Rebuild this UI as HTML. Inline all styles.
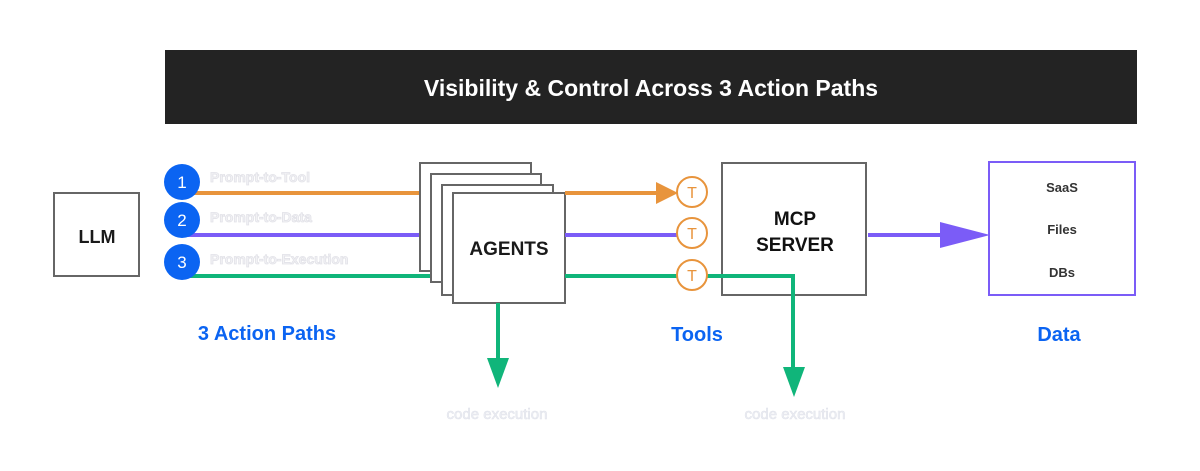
<!DOCTYPE html>
<html><head><meta charset="utf-8"><style>
html,body{margin:0;padding:0;background:#fff;}
svg{display:block;}
text{font-family:"Liberation Sans",sans-serif;}
</style></head><body>
<svg width="1200" height="471" viewBox="0 0 1200 471" xmlns="http://www.w3.org/2000/svg">
<rect x="0" y="0" width="1200" height="471" fill="#fff"/>
<rect x="165" y="50" width="972" height="74" fill="#232323"/>
<text x="651" y="96" fill="#fff" font-size="23" font-weight="bold" text-anchor="middle">Visibility &amp; Control Across 3 Action Paths</text>

<rect x="54" y="193" width="85" height="83" fill="#fff" stroke="#666" stroke-width="2"/>
<text x="97" y="243" font-size="18" font-weight="bold" text-anchor="middle" fill="#1a1a1a">LLM</text>

<line x1="182" y1="193" x2="430" y2="193" stroke="#e8943c" stroke-width="4"/>
<line x1="182" y1="235" x2="430" y2="235" stroke="#7b5cf7" stroke-width="4"/>
<line x1="182" y1="276" x2="440" y2="276" stroke="#10b57a" stroke-width="4"/>

<rect x="420" y="163" width="111" height="108" fill="#fff" stroke="#666" stroke-width="2"/>
<rect x="431" y="174" width="110" height="108" fill="#fff" stroke="#666" stroke-width="2"/>
<rect x="442" y="185" width="111" height="110" fill="#fff" stroke="#666" stroke-width="2"/>
<rect x="453" y="193" width="112" height="110" fill="#fff" stroke="#666" stroke-width="2"/>
<text x="509" y="255" font-size="19" font-weight="bold" text-anchor="middle" fill="#1a1a1a">AGENTS</text>

<line x1="565" y1="193" x2="660" y2="193" stroke="#e8943c" stroke-width="4"/>
<polygon points="656,182 678,193 656,204" fill="#e8943c"/>
<line x1="565" y1="235" x2="677" y2="235" stroke="#7b5cf7" stroke-width="4"/>
<line x1="565" y1="276" x2="677" y2="276" stroke="#10b57a" stroke-width="4"/>
<line x1="498" y1="303" x2="498" y2="362" stroke="#10b57a" stroke-width="4"/>
<polygon points="487,358 509,358 498,388" fill="#10b57a"/>

<rect x="722" y="163" width="144" height="132" fill="#fff" stroke="#666" stroke-width="2"/>
<text x="795" y="225" font-size="19" font-weight="bold" text-anchor="middle" fill="#111">MCP</text>
<text x="795" y="251" font-size="19" font-weight="bold" text-anchor="middle" fill="#111">SERVER</text>
<line x1="868" y1="235" x2="945" y2="235" stroke="#7b5cf7" stroke-width="4"/>
<polygon points="940,222 990,235 940,248" fill="#7b5cf7"/>

<polyline points="707,276 793,276 793,372" fill="none" stroke="#10b57a" stroke-width="4"/>
<polygon points="783,367 805,367 794,397" fill="#10b57a"/>

<g fill="#fff" stroke="#e8943c" stroke-width="2">
<circle cx="692" cy="192" r="15"/><circle cx="692" cy="233" r="15"/><circle cx="692" cy="275" r="15"/>
</g>
<g font-size="16" fill="#e8943c" text-anchor="middle">
<text x="692" y="198">T</text><text x="692" y="239">T</text><text x="692" y="281">T</text>
</g>

<rect x="989" y="162" width="146" height="133" fill="#fff" stroke="#7b5cf7" stroke-width="2"/>
<g font-size="13" font-weight="bold" fill="#333" text-anchor="middle">
<text x="1062" y="192">SaaS</text><text x="1062" y="234">Files</text><text x="1062" y="277">DBs</text>
</g>

<g fill="#0b64f2">
<circle cx="182" cy="182" r="18"/><circle cx="182" cy="220" r="18"/><circle cx="182" cy="262" r="18"/>
</g>
<g font-size="17" fill="#fff" text-anchor="middle">
<text x="182" y="188">1</text><text x="182" y="226">2</text><text x="182" y="268">3</text>
</g>
<g font-size="14" font-weight="bold" fill="#f2f2f5" stroke="#e2e2e8" stroke-width="0.8">
<text x="210" y="182">Prompt-to-Tool</text>
<text x="210" y="222">Prompt-to-Data</text>
<text x="210" y="264">Prompt-to-Execution</text>
</g>

<g font-size="20" font-weight="bold" fill="#0b64f2" text-anchor="middle">
<text x="267" y="340">3 Action Paths</text>
<text x="697" y="341">Tools</text>
<text x="1059" y="341">Data</text>
</g>
<g font-size="15" fill="#eef0f5" stroke="#e0e2ea" stroke-width="0.6" text-anchor="middle">
<text x="497" y="419">code execution</text>
<text x="795" y="419">code execution</text>
</g>
</svg>
</body></html>
